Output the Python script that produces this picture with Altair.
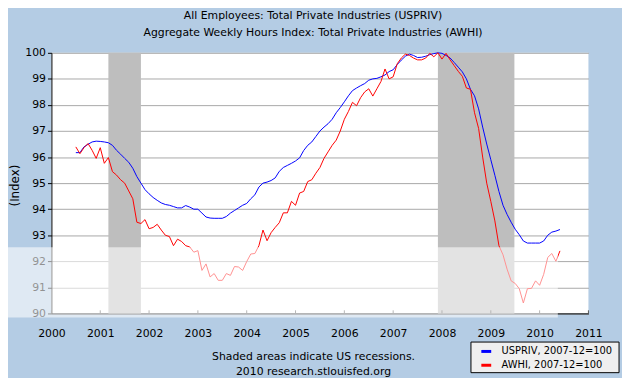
import altair as alt
import pandas as pd

# monthly observations, Jul 2000 .. Jun 2010
months = [f"{y}-{m:02d}" for y in range(2000, 2011) for m in range(1, 13)]
months = [s for s in months if "2000-07" <= s <= "2010-06"]

usp = [
    96.17, 96.17, 96.39, 96.49, 96.58, 96.61,
    96.60, 96.58, 96.55, 96.45, 96.26, 96.11, 95.95, 95.80, 95.57, 95.25, 95.00, 94.75,
    94.59, 94.45, 94.34, 94.24, 94.18, 94.15, 94.10, 94.05, 94.05, 94.14, 94.08, 94.00,
    94.00, 93.85, 93.70, 93.66, 93.65, 93.65, 93.65, 93.72, 93.85, 93.95, 94.05, 94.15,
    94.22, 94.40, 94.55, 94.85, 95.00, 95.04, 95.10, 95.20, 95.45, 95.60, 95.68, 95.76,
    95.85, 95.97, 96.25, 96.45, 96.58, 96.79, 97.00, 97.15, 97.28, 97.45, 97.70, 97.90,
    98.12, 98.35, 98.55, 98.65, 98.74, 98.82, 98.95, 99.00, 99.02, 99.08, 99.15, 99.28,
    99.35, 99.55, 99.72, 99.87, 99.95, 99.90, 99.82, 99.83, 99.87, 99.93, 99.97, 100.00,
    99.98, 99.90, 99.80, 99.63, 99.45, 99.27, 99.00, 98.60, 98.35, 97.85, 97.15, 96.50,
    95.90, 95.30, 94.68, 94.15, 93.80, 93.50, 93.23, 93.02, 92.78, 92.70, 92.70, 92.70,
    92.70, 92.78, 93.00, 93.12, 93.16, 93.22,
]

awhi = [
    96.39, 96.13, 96.36, 96.52, 96.26, 95.95,
    96.36, 95.76, 95.98, 95.44, 95.31, 95.13, 95.00, 94.70, 94.40, 93.50, 93.45, 93.60,
    93.25, 93.30, 93.42, 93.20, 93.00, 92.95, 92.60, 92.85, 92.76, 92.60, 92.55, 92.35,
    92.41, 91.65, 91.90, 91.40, 91.53, 91.27, 91.27, 91.53, 91.46, 91.80, 91.78, 91.65,
    91.99, 92.28, 92.30, 92.60, 93.20, 92.79, 93.10, 93.30, 93.48, 93.86, 93.86, 94.30,
    94.15, 94.62, 94.68, 95.06, 95.13, 95.38, 95.60, 95.95, 96.20, 96.45, 96.65, 97.00,
    97.45, 97.75, 98.10, 97.97, 98.28, 98.50, 98.62, 98.34, 98.62, 98.90, 99.38, 99.00,
    99.08, 99.58, 99.80, 99.95, 99.90, 99.80, 99.73, 99.73, 99.80, 99.98, 99.85, 100.00,
    99.76, 99.98, 99.73, 99.51, 99.29, 99.10, 98.65, 98.60, 97.70, 97.10, 96.00, 95.00,
    94.30, 93.55, 92.60, 92.25, 91.70, 91.25, 91.15, 90.95, 90.40, 90.95, 90.96, 91.25,
    91.08, 91.50, 92.15, 92.30, 92.00, 92.40,
]

series_names = ["USPRIV, 2007-12=100", "AWHI, 2007-12=100"]
series_colors = ["#0000FF", "#FF0000"]

rec_start = [2001 + 2 / 12, 2007 + 11 / 12]
rec_end = [2001 + 10 / 12, 2009 + 5.8 / 12]

years = list(range(2000, 2012))
yticks = list(range(90, 101))

title_lines = [
    "All Employees: Total Private Industries (USPRIV)",
    "Aggregate Weekly Hours Index: Total Private Industries (AWHI)",
]
footer_lines = ["Shaded areas indicate US recessions.", "2010 research.stlouisfed.org"]

xdec = [int(s[:4]) + (int(s[5:7]) - 1) / 12 for s in months]
df = pd.DataFrame({
    "x": xdec + xdec,
    "value": usp + awhi,
    "series": [series_names[0]] * len(usp) + [series_names[1]] * len(awhi),
})
rec_df = pd.DataFrame({"start": rec_start, "end": rec_end, "lo": [90] * 2, "hi": [100] * 2})
tick_df = pd.DataFrame({"yr": years, "lo": [90] * len(years), "hi": [90.12] * len(years)})
one = pd.DataFrame({"a": [0]})

FONT = "DejaVu Sans"
W, H = 544, 264
xscale = alt.Scale(domain=[2000, 2011], nice=False, zero=False)
yscale = alt.Scale(domain=[90, 100], nice=False, zero=False)

xaxis = alt.Axis(
    values=years, format="d", tickSize=0, labelPadding=14, grid=False,
    domainColor="#000000", labelColor="#000000", labelFontSize=11, labelFont=FONT,
    title=footer_lines, titleFont=FONT, titleFontSize=11, titleFontWeight="normal",
    titleColor="#000000", titleLineHeight=15, titleX=265, titleY=38,
    titleAlign="center", titleBaseline="top", labelFlush=False, labelOverlap=False,
)
yaxis = alt.Axis(
    values=yticks, tickSize=4, tickColor="#000000", labelPadding=2,
    grid=True, gridColor="#A8A8A8", domainColor="#000000", labelColor="#000000",
    labelFontSize=11, labelFont=FONT, labelOverlap=False, title="(Index)", titleFont=FONT,
    titleFontSize=12, titleFontWeight="normal", titleColor="#000000",
    titleAngle=270, titleX=-37, titleY=134, titleAlign="center", titleBaseline="middle",
)

rec = alt.Chart(rec_df).mark_rect(color="#BEBEBE").encode(
    x=alt.X("start:Q", scale=xscale, axis=xaxis),
    x2="end:Q",
    y=alt.Y("lo:Q", scale=yscale, axis=yaxis),
    y2="hi:Q",
)

lines = alt.Chart(df).mark_line(strokeWidth=1).encode(
    x=alt.X("x:Q", scale=xscale, axis=xaxis),
    y=alt.Y("value:Q", scale=yscale, axis=yaxis),
    color=alt.Color(
        "series:N",
        scale=alt.Scale(domain=series_names, range=series_colors),
        legend=alt.Legend(
            title=None, orient="none", legendX=434, legendY=296,
            symbolType="stroke", symbolStrokeWidth=3, symbolSize=100,
            labelFont=FONT, labelFontSize=10, labelColor="#000000",
            labelOffset=9, rowPadding=1, padding=0,
        ),
    ),
)

ticks = alt.Chart(tick_df).mark_rule(color="#555555", strokeWidth=1).encode(
    x=alt.X("yr:Q", scale=xscale, axis=xaxis),
    y=alt.Y("lo:Q", scale=yscale, axis=yaxis),
    y2="hi:Q",
)

veil = alt.Chart(one).mark_rect(color="#FFFFFF", opacity=0.57).encode(
    x=alt.value(-44), x2=alt.value(513), y=alt.value(197), y2=alt.value(268)
)

legend_box = alt.Chart(one).mark_rect(fill="#EFEFEF", stroke="#000000", strokeWidth=1).encode(
    x=alt.value(425), x2=alt.value(575), y=alt.value(293), y2=alt.value(324)
)

chart = alt.layer(rec, lines, ticks, veil, legend_box).properties(
    width=W, height=H,
    autosize=alt.AutoSizeParams(type="none"),
    padding={"left": 44, "top": 43, "right": 34, "bottom": 63},
    background="#B4CCE4",
    title=alt.TitleParams(
        text=title_lines, anchor="middle", font=FONT, fontSize=11, fontWeight="normal",
        color="#000000", lineHeight=17, offset=9, dx=-7,
    ),
).configure_view(fill="#FFFFFF", stroke=None).configure_axis(zindex=0)

chart.save("out.html", embed_options={"renderer": "svg", "actions": False})
